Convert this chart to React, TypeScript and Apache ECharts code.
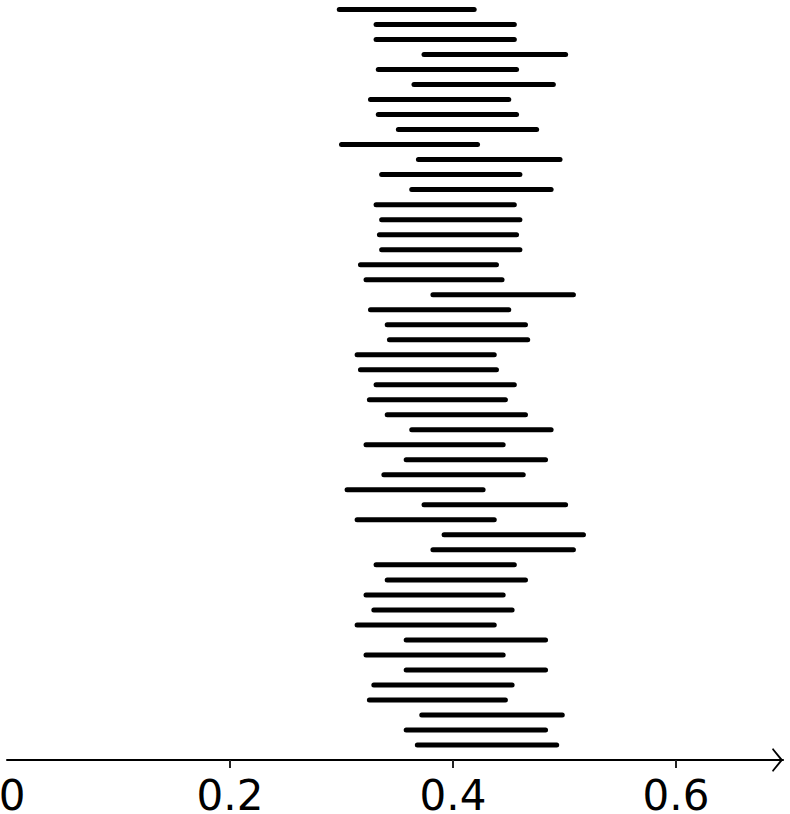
import React, { useEffect, useRef } from 'react';
import * as echarts from 'echarts';

// interval bounds, listed from the top row down
const lowerBounds = [
  0.298, 0.331, 0.331, 0.374, 0.333, 0.365, 0.326, 0.333, 0.351, 0.300,
  0.369, 0.336, 0.363, 0.331, 0.336, 0.334, 0.336, 0.317, 0.322, 0.382,
  0.326, 0.341, 0.343, 0.314, 0.317, 0.331, 0.325, 0.341, 0.363, 0.322,
  0.358, 0.338, 0.305, 0.374, 0.314, 0.392, 0.382, 0.331, 0.341, 0.322,
  0.329, 0.314, 0.358, 0.322, 0.358, 0.329, 0.325, 0.372, 0.358, 0.368
];
const upperBounds = [
  0.419, 0.455, 0.455, 0.501, 0.457, 0.490, 0.450, 0.457, 0.475, 0.422,
  0.496, 0.460, 0.488, 0.455, 0.460, 0.457, 0.460, 0.439, 0.444, 0.508,
  0.450, 0.465, 0.467, 0.437, 0.439, 0.455, 0.447, 0.465, 0.488, 0.445,
  0.483, 0.463, 0.427, 0.501, 0.437, 0.517, 0.508, 0.455, 0.465, 0.445,
  0.453, 0.437, 0.483, 0.445, 0.483, 0.453, 0.447, 0.498, 0.483, 0.493
];
const labelValues = [0, 0.2, 0.4, 0.6];
const tickValues = [0.2, 0.4, 0.6];
const xMax = 0.696;

const FONT = "'DejaVu Sans', sans-serif";

// open chevron for the end of the axis (points up, rotated by echarts)
const chevron = 'path://M0 10 L12 0 L24 10 L22.4 11 L12 2.6 L1.6 11 Z';

const App: React.FC = () => {
  const chartRef = useRef<HTMLDivElement>(null);

  useEffect(() => {
    if (!chartRef.current) return;
    const chart = echarts.init(chartRef.current, null, { renderer: 'svg' });

    const rows = lowerBounds.length;
    const data = lowerBounds.map((lo, i) => [lo, upperBounds[i], rows - i]);

    chart.setOption({
      animation: false,
      grid: {
        left: 7,
        right: 790 - 7 - xMax * 1115,
        top: 9.5,
        bottom: 54,
        containLabel: false,
        outerBoundsMode: 'none'
      },
      xAxis: {
        type: 'value',
        min: 0,
        max: xMax,
        splitLine: { show: false },
        axisLine: {
          show: true,
          symbol: ['none', chevron],
          symbolSize: [24, 11],
          symbolOffset: [0, -5.5],
          lineStyle: { color: '#000', width: 2 }
        },
        axisTick: {
          show: true,
          length: 8,
          customValues: tickValues,
          lineStyle: { color: '#222', width: 2 }
        },
        axisLabel: {
          customValues: labelValues,
          margin: 18,
          color: '#000',
          fontSize: 42,
          lineHeight: 34,
          fontFamily: FONT,
          formatter: (v: number) => (v === 0 ? '{zero|0}' : String(v)),
          rich: {
            zero: {
              padding: [0, 0, 0, 10],
              fontSize: 42,
              lineHeight: 34,
              fontFamily: FONT,
              color: '#000'
            }
          }
        }
      },
      yAxis: {
        type: 'value',
        min: 0,
        max: rows,
        show: false
      },
      series: [
        {
          type: 'custom',
          data,
          encode: { x: [0, 1], y: 2 },
          renderItem: (params: any, api: any) => {
            const y = api.value(2);
            const p1 = api.coord([api.value(0), y]);
            const p2 = api.coord([api.value(1), y]);
            return {
              type: 'line',
              shape: { x1: p1[0], y1: p1[1], x2: p2[0], y2: p2[1] },
              style: { stroke: '#000', lineWidth: 5, lineCap: 'round' }
            };
          }
        }
      ]
    });

    return () => {
      chart.dispose();
    };
  }, []);

  return (
    <div
      ref={chartRef}
      style={{ position: 'absolute', left: 0, top: 0, width: '790px', height: '814px' }}
    />
  );
};

export default App;
